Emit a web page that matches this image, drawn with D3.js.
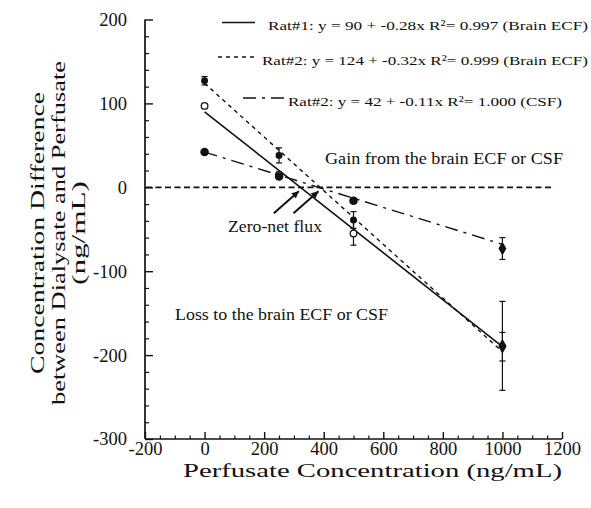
<!DOCTYPE html>
<html>
<head>
<meta charset="utf-8">
<script src="https://cdn.jsdelivr.net/npm/d3@7"></script>
<style>
  html, body { margin: 0; padding: 0; background: #fff; }
  svg { display: block; }
  text { font-family: "Liberation Serif", "DejaVu Serif", serif; fill: #111; }
</style>
</head>
<body>
<svg id="chart" width="591" height="508"></svg>
<script>
// ---------- data ----------
const concentrations = [0, 250, 500, 1000];
const rat1Values = [97, 15, -55, -189];
const rat1Errors = [2, 3, 14, 53];
const rat2Values = [127, 38, -39, -190];
const rat2Errors = [5, 9, 10, 17];
const csfValues = [42, 13, -16, -73];
const csfErrors = [2, 2, 3, 13];

const seriesNames = ["Rat#1", "Rat#2", "Rat#2"];
const seriesMedia = ["Brain ECF", "Brain ECF", "CSF"];
const intercepts = [90, 124, 42];
const slopes = [-0.28, -0.32, -0.11];
const r2Labels = ["0.997", "0.999", "1.000"];

const xMajorTicks = [-200, 0, 200, 400, 600, 800, 1000, 1200];
const yMajorTicks = [-300, -200, -100, 0, 100, 200];

const xTitle = "Perfusate Concentration (ng/mL)";
const yTitleLines = ["Concentration Difference", "between Dialysate and Perfusate", "(ng/mL)"];
const gainLabel = "Gain from the brain ECF or CSF";
const lossLabel = "Loss to the brain ECF or CSF";
const fluxLabel = "Zero-net flux";

// ---------- layout ----------
const svg = d3.select("#chart");
const X0 = 145, X1 = 562, Y0 = 439, Y1 = 19.5;
const x = d3.scaleLinear().domain([-200, 1200]).range([X0, X1]);
const y = d3.scaleLinear().domain([-300, 200]).range([Y0, Y1]);

function fitText(sel, width) {
  return sel.attr("textLength", width).attr("lengthAdjust", "spacingAndGlyphs");
}
const fmt = d => d < 0 ? "-" + Math.abs(d) : String(d);

// axes lines
svg.append("line").attr("x1", X0).attr("x2", X0).attr("y1", Y1).attr("y2", Y0)
  .attr("stroke", "#111").attr("stroke-width", 1.7);
svg.append("line").attr("x1", X0).attr("x2", X1).attr("y1", Y0).attr("y2", Y0)
  .attr("stroke", "#111").attr("stroke-width", 1.7);

// minor ticks
const xMinor = d3.range(-200, 1201, 50).filter(v => v % 200 !== 0);
const yMinor = d3.range(-300, 201, 20).filter(v => v % 100 !== 0);

const gx = svg.append("g").attr("transform", `translate(0,${Y0})`)
  .call(d3.axisBottom(x).tickValues(xMajorTicks).tickSize(-7).tickSizeOuter(0).tickPadding(3)
        .tickFormat(fmt));
gx.attr("font-size", null).attr("font-family", null);
gx.select(".domain").remove();
gx.selectAll("line").attr("stroke", "#111").attr("stroke-width", 1.4);
gx.selectAll("text").attr("font-size", 18.5).attr("fill", "#111");

const gxm = svg.append("g").attr("transform", `translate(0,${Y0})`)
  .call(d3.axisBottom(x).tickValues(xMinor).tickSize(-3.5).tickSizeOuter(0).tickFormat(""));
gxm.select(".domain").remove();
gxm.selectAll("line").attr("stroke", "#111").attr("stroke-width", 1.2);

const gy = svg.append("g").attr("transform", `translate(${X0},0)`)
  .call(d3.axisLeft(y).tickValues(yMajorTicks).tickSize(-8).tickSizeOuter(0).tickPadding(18)
        .tickFormat(fmt));
gy.attr("font-size", null).attr("font-family", null);
gy.select(".domain").remove();
gy.selectAll("line").attr("stroke", "#111").attr("stroke-width", 1.4);
gy.selectAll("text").attr("font-size", 18.5).attr("fill", "#111");

const gym = svg.append("g").attr("transform", `translate(${X0},0)`)
  .call(d3.axisLeft(y).tickValues(yMinor).tickSize(-4).tickSizeOuter(0).tickFormat(""));
gym.select(".domain").remove();
gym.selectAll("line").attr("stroke", "#111").attr("stroke-width", 1.2);

// zero line
svg.append("line").attr("x1", X0 + 1).attr("x2", x(1175)).attr("y1", y(0)).attr("y2", y(0))
  .attr("stroke", "#111").attr("stroke-width", 1.7).attr("stroke-dasharray", "6,3.5");

// regression lines
const lineStyles = [
  { dash: null, width: 1.6 },
  { dash: "4,4", width: 1.4 },
  { dash: "13,6,3,6", width: 1.4 }
];
const lineGen = d3.line().x(d => x(d[0])).y(d => y(d[1]));
intercepts.forEach((b, i) => {
  const pts = [0, 1000].map(c => [c, b + slopes[i] * c]);
  svg.append("path").attr("d", lineGen(pts)).attr("fill", "none")
    .attr("stroke", "#111").attr("stroke-width", lineStyles[i].width)
    .attr("stroke-dasharray", lineStyles[i].dash);
});

// error bars + markers
const series = [
  { values: rat1Values, errors: rat1Errors, fill: "#fff", r: 3.3 },
  { values: rat2Values, errors: rat2Errors, fill: "#111", r: 2.8 },
  { values: csfValues, errors: csfErrors, fill: "#111", r: 3.6 }
];
series.forEach(s => {
  concentrations.forEach((c, j) => {
    const v = s.values[j], e = s.errors[j];
    const g = svg.append("g");
    g.append("line").attr("x1", x(c)).attr("x2", x(c)).attr("y1", y(v - e)).attr("y2", y(v + e))
      .attr("stroke", "#111").attr("stroke-width", 1.2);
    [v - e, v + e].forEach(ev => {
      g.append("line").attr("x1", x(c) - 3).attr("x2", x(c) + 3).attr("y1", y(ev)).attr("y2", y(ev))
        .attr("stroke", "#111").attr("stroke-width", 1.2);
    });
  });
});
series.forEach(s => {
  concentrations.forEach((c, j) => {
    const v = s.values[j];
    if (c === 1000) {
      svg.append("path").attr("d", d3.symbol(d3.symbolDiamond, 55)())
        .attr("transform", `translate(${x(c)},${y(v)})`).attr("fill", "#111");
    } else {
      svg.append("circle").attr("cx", x(c)).attr("cy", y(v)).attr("r", s.r)
        .attr("fill", s.fill).attr("stroke", "#111").attr("stroke-width", 1.3);
    }
  });
});

// zero-net flux arrows
const defs = svg.append("defs");
defs.append("marker").attr("id", "ah").attr("viewBox", "0 0 10 10").attr("refX", 10).attr("refY", 5)
  .attr("markerWidth", 9).attr("markerHeight", 7).attr("markerUnits", "userSpaceOnUse")
  .attr("orient", "auto")
  .append("path").attr("d", "M0,0 L10,5 L0,10 Z").attr("fill", "#111");
[0, 1].forEach(i => {
  const z = -intercepts[i] / slopes[i];
  const tx = x(z) - 1.5, ty = y(0) + 4;
  svg.append("line").attr("x1", tx - 25).attr("y1", ty + 22).attr("x2", tx).attr("y2", ty)
    .attr("stroke", "#111").attr("stroke-width", 2).attr("marker-end", "url(#ah)");
});

// annotation texts
fitText(svg.append("text").attr("x", 325).attr("y", 163.5).attr("font-size", 17.5).text(gainLabel), 238);
fitText(svg.append("text").attr("x", 228).attr("y", 231.5).attr("font-size", 17.5).text(fluxLabel), 94);
fitText(svg.append("text").attr("x", 175).attr("y", 320).attr("font-size", 17.5).text(lossLabel), 213);

// legend
const legendRows = [
  { lx1: 222, lx2: 255, ly: 22.5, tx: 268, ty: 30, w: 320 },
  { lx1: 218, lx2: 257, ly: 57, tx: 262, ty: 65, w: 326 },
  { lx1: 243, lx2: 287, ly: 98, tx: 288, ty: 105.5, w: 274 }
];
legendRows.forEach((row, i) => {
  svg.append("line").attr("x1", row.lx1).attr("x2", row.lx2).attr("y1", row.ly).attr("y2", row.ly)
    .attr("stroke", "#111").attr("stroke-width", 1.3).attr("stroke-dasharray", lineStyles[i].dash);
  const label = `${seriesNames[i]}: y = ${intercepts[i]} + ${slopes[i]}x R²= ${r2Labels[i]} (${seriesMedia[i]})`;
  fitText(svg.append("text").attr("x", row.tx).attr("y", row.ty).attr("font-size", 13.5).text(label), row.w);
});

// axis titles
fitText(svg.append("text").attr("x", 183).attr("y", 477).attr("font-size", 19.5).text(xTitle), 379);

const yt = svg.append("g").attr("transform", "translate(0,233) rotate(-90)");
const yLineX = [38, 59, 79];
const yLineW = [282, 344, 104];
yTitleLines.forEach((t, i) => {
  fitText(yt.append("text").attr("x", -yLineW[i] / 2).attr("y", yLineX[i] + 6)
    .attr("font-size", 19.5).text(t), yLineW[i]);
});
</script>
</body>
</html>
